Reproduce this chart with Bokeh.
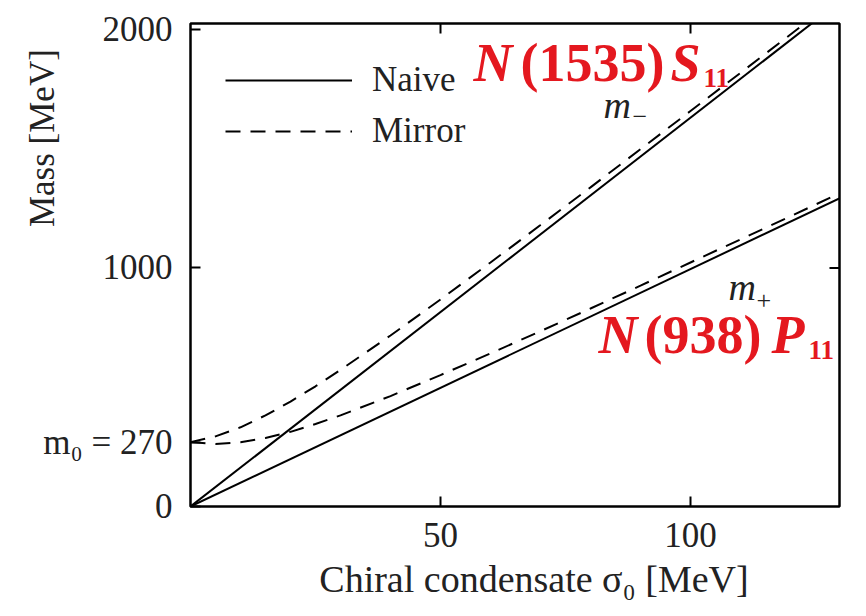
import math
from bokeh.plotting import figure
from bokeh.models import Range1d, FixedTicker, Legend, LegendItem, Label
from bokeh.embed import file_html
from bokeh.resources import INLINE

# ---- data ----
sigma_naive = [0, 130]
m_minus_naive = [0, 2119]
m_plus_naive = [0, 1294]

sigma_mirror = [0, 5, 10, 15, 20, 25, 30, 40, 50, 60, 70, 80, 90, 100, 110, 120, 130]
m_minus_mirror = [270, 294, 332, 382, 440, 504, 573, 717, 868, 1023, 1180, 1338, 1498, 1658, 1818, 1979, 2140]
m_plus_mirror = [270, 262, 269, 287, 313, 346, 382, 463, 551, 642, 735, 830, 926, 1023, 1120, 1217, 1315]

x_ticks = [50, 100]
y_ticks = [0, 270, 1000, 2000]
y_ticks_right = [1000]
y_tick_labels = {270: "m₀ = 270"}
x_max = 129.8
y_max = 2025

FONT = "Liberation Serif"
TXT = "#222222"
RED = "#e4181f"
NBSP = "\u00a0"

p = figure(width=858, height=608, output_backend="svg", toolbar_location=None,
           x_range=Range1d(0, x_max), y_range=Range1d(0, y_max),
           min_border_left=190, min_border_right=19, min_border_top=23,
           min_border_bottom=102, background_fill_color="white",
           border_fill_color="white")
p.xgrid.visible = False
p.ygrid.visible = False
p.outline_line_color = "black"
p.outline_line_width = 2.5

DASH = "15 10"
r_naive_m = p.line(sigma_naive, m_minus_naive, line_color="black", line_width=2)
p.line(sigma_naive, m_plus_naive, line_color="black", line_width=2)
r_mirror_m = p.line(sigma_mirror, m_minus_mirror, line_color="black", line_width=2,
                    line_dash=DASH)
p.line(sigma_mirror, m_plus_mirror, line_color="black", line_width=2, line_dash=DASH)

# inward ticks on the top and right edges
p.ray(x=x_ticks, y=[y_max] * len(x_ticks), length=10, length_units="screen",
      angle=-math.pi / 2, line_color="black", line_width=2)
p.ray(x=[x_max] * len(y_ticks_right), y=y_ticks_right, length=10, length_units="screen",
      angle=math.pi, line_color="black", line_width=2)

# axes
p.xaxis.ticker = FixedTicker(ticks=x_ticks)
p.yaxis.ticker = FixedTicker(ticks=y_ticks)
p.yaxis.major_label_overrides = y_tick_labels
p.xaxis.axis_label = NBSP * 5 + "Chiral condensate σ₀  [MeV]"
p.yaxis.axis_label = NBSP * 29 + "Mass [MeV]"

for ax in [p.xaxis[0], p.yaxis[0]]:
    ax.axis_line_color = None
    ax.major_tick_in = 10
    ax.major_tick_out = 0
    ax.major_tick_line_width = 2
    ax.minor_tick_line_color = None
    ax.major_label_text_font = FONT
    ax.major_label_text_font_size = "35px"
    ax.major_label_text_color = TXT
    ax.axis_label_text_font = FONT
    ax.axis_label_text_font_size = "35px"
    ax.axis_label_text_font_style = "normal"
    ax.axis_label_text_color = TXT

p.xaxis.axis_label_text_font_size = "38px"
p.yaxis.major_label_standoff = 18
p.yaxis.axis_label_standoff = -22
p.xaxis.major_label_standoff = 16
p.xaxis.axis_label_standoff = 8

# legend
legend = Legend(items=[LegendItem(label="Naive", renderers=[r_naive_m]),
                       LegendItem(label="Mirror", renderers=[r_mirror_m])],
                location=(35, 355), padding=0, margin=0, spacing=11,
                glyph_width=127, glyph_height=40, label_height=40,
                label_standoff=20, border_line_color=None,
                background_fill_alpha=0, label_text_font=FONT,
                label_text_font_size="35px", label_text_color=TXT)
p.add_layout(legend)

def lab(x, y, text, size, style="normal", color=TXT, dx=0, dy=0):
    p.add_layout(Label(x=x, y=y, text=text, text_font=FONT, text_font_size=size,
                       text_font_style=style, text_color=color, x_offset=dx,
                       y_offset=dy, text_baseline="alphabetic", text_align="left"))

# m- and m+ labels
lab(82.6, 1685, "m", "38px", "italic")
lab(82.6, 1685, "−", "26px", dx=29, dy=-12)
lab(107.6, 922, "m", "38px", "italic")
lab(107.6, 922, "+", "26px", dx=28, dy=-14)

# red state labels
lab(56.6, 1861, "N", "54px", "bold italic", RED)
lab(56.6, 1861, "(1535)", "54px", "bold", RED, dx=47)
lab(56.6, 1861, "S", "54px", "bold italic", RED, dx=197)
lab(56.6, 1861, "11", "27px", "bold", RED, dx=230, dy=-15)

lab(81.6, 717, "N", "54px", "bold italic", RED)
lab(81.6, 717, "(938)", "54px", "bold", RED, dx=46)
lab(81.6, 717, "P", "54px", "bold italic", RED, dx=173)
lab(81.6, 717, "11", "27px", "bold", RED, dx=210, dy=-15)

open("out.html", "w").write(file_html(p, INLINE))
